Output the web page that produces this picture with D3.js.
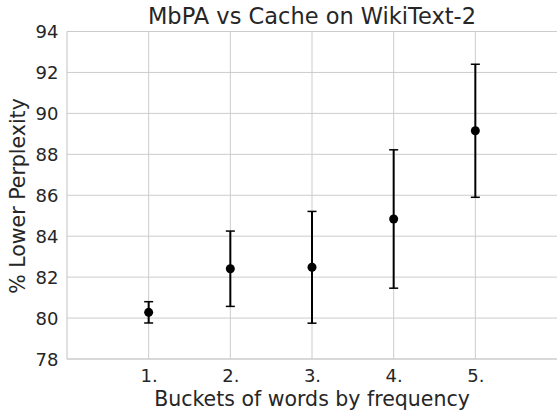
<!DOCTYPE html>
<html><head><meta charset="utf-8">
<script src="https://cdn.jsdelivr.net/npm/d3@7"></script>
<style>body{margin:0;background:#fff}svg{display:block}text{font-family:"DejaVu Sans",sans-serif;fill:#262626}</style>
</head><body>
<script>
const categories = [1, 2, 3, 4, 5];
const tickLabels = ["1.", "2.", "3.", "4.", "5."];
const means = [80.28, 82.41, 82.48, 84.84, 89.15];
const errors = [0.52, 1.84, 2.73, 3.38, 3.25];
const yTicks = [78, 80, 82, 84, 86, 88, 90, 92, 94];

const W = 558, H = 410;
const m = {left: 67, right: 1, top: 31.5, bottom: 51};
const svg = d3.select("body").append("svg").attr("width", W).attr("height", H);
const x = d3.scaleLinear().domain([0, 6]).range([m.left, W - m.right]);
const y = d3.scaleLinear().domain([78, 94]).range([H - m.bottom, m.top]);

const g = svg.append("g");
// grid
g.selectAll(".hg").data(yTicks).join("line")
  .attr("x1", m.left).attr("x2", W - m.right)
  .attr("y1", d => y(d)).attr("y2", d => y(d))
  .attr("stroke", "#cccccc").attr("stroke-width", 1);
g.selectAll(".vg").data(categories).join("line")
  .attr("x1", d => x(d)).attr("x2", d => x(d))
  .attr("y1", m.top).attr("y2", H - m.bottom)
  .attr("stroke", "#cccccc").attr("stroke-width", 1);
// spines
g.append("line").attr("x1", m.left).attr("x2", m.left).attr("y1", m.top).attr("y2", H - m.bottom).attr("stroke", "#cccccc").attr("stroke-width", 1.2);
g.append("line").attr("x1", m.left).attr("x2", W - m.right).attr("y1", H - m.bottom).attr("y2", H - m.bottom).attr("stroke", "#cccccc").attr("stroke-width", 1.2);

// axes
const yAxis = d3.axisLeft(y).tickValues(yTicks).tickSize(0).tickPadding(8.5).tickFormat(d3.format("d"));
const ya = svg.append("g").attr("transform", `translate(${m.left},0)`).call(yAxis);
ya.select(".domain").remove();
ya.selectAll("text").attr("font-size", 18).style("fill", "#262626").attr("dy", "0.36em");

const xAxis = d3.axisBottom(x).tickValues(categories).tickSize(0).tickPadding(10).tickFormat((d, i) => tickLabels[i]);
const xa = svg.append("g").attr("transform", `translate(0,${H - m.bottom})`).call(xAxis);
xa.select(".domain").remove();
xa.selectAll("text").attr("font-size", 18).style("fill", "#262626");

// error bars
const eb = svg.append("g");
categories.forEach((c, i) => {
  const cx = x(c);
  eb.append("line").attr("x1", cx).attr("x2", cx).attr("y1", y(means[i] - errors[i])).attr("y2", y(means[i] + errors[i])).attr("stroke", "#000").attr("stroke-width", 2);
  [means[i] - errors[i], means[i] + errors[i]].forEach(v => {
    eb.append("line").attr("x1", cx - 4.5).attr("x2", cx + 4.5).attr("y1", y(v)).attr("y2", y(v)).attr("stroke", "#000").attr("stroke-width", 1.5);
  });
  eb.append("circle").attr("cx", cx).attr("cy", y(means[i])).attr("r", 4.5).attr("fill", "#000");
});

svg.append("text").attr("x", 312).attr("y", 24).attr("text-anchor", "middle").attr("font-size", 22.5).text("MbPA vs Cache on WikiText-2");
svg.append("text").attr("x", 312).attr("y", 405.5).attr("text-anchor", "middle").attr("font-size", 20.5).text("Buckets of words by frequency");
svg.append("text").attr("transform", `translate(24.5,196) rotate(-90)`).attr("text-anchor", "middle").attr("font-size", 20.5).text("% Lower Perplexity");
</script>
</body></html>
